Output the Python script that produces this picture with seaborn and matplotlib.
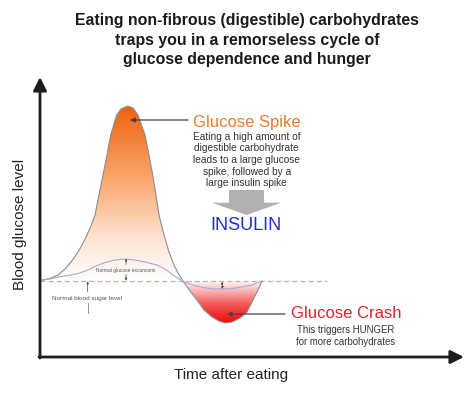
import numpy as np
import pandas as pd
import seaborn as sns
import matplotlib.pyplot as plt
from matplotlib.colors import LinearSegmentedColormap
from matplotlib.patches import FancyArrow

# time after eating (arbitrary units) and blood glucose level (arbitrary units)
spike_time = [0, 10, 18, 25, 31, 36, 41, 46, 51, 55, 59, 63, 67, 70.7, 76.7, 81, 87.7,
              93, 98, 105, 109, 112.7, 116, 119, 124, 129, 134, 138.5, 143,
              150, 157, 164, 172, 179, 185, 192, 200, 207, 213, 218, 222]
spike_level = [76.5, 78.5, 82, 88, 95, 102, 110, 120, 131, 142, 162, 182, 202, 222, 242, 248, 251,
               249, 242, 222, 202, 182, 162, 142, 122, 105, 92, 83, 76,
               66, 57, 47, 40, 36, 34, 35, 39, 45, 57, 67, 76]

normal_time = [0, 10, 18, 28, 38, 48, 57, 65, 75, 85, 95, 105, 117, 125, 133, 143,
               153, 163, 173, 182, 192, 202, 212, 222]
normal_level = [76.5, 78, 80, 81.5, 83.5, 87, 91.5, 94.5, 97, 98, 97, 95, 92, 88, 82, 75.5,
                72, 69.5, 68, 68, 68.5, 70, 72, 76]

baseline_level = 76.3
baseline_end = 287

sns.set_theme(style="white")
plt.rcParams['font.family'] = ['Liberation Sans', 'DejaVu Sans']

fig = plt.figure(figsize=(4.74, 3.98), dpi=100)
ax = fig.add_axes([0, 0, 1, 1])
ax.set_axis_off()

spike = pd.DataFrame({"time": spike_time, "level": spike_level})
normal = pd.DataFrame({"time": normal_time, "level": normal_level})

# gradient fills clipped to the curve
def gradient_fill(df, cmap, zorder=1):
    poly = ax.fill_between(df["time"], df["level"], baseline_level, color="none", lw=0)
    path = poly.get_paths()[0]
    lo = min(df["level"].min(), baseline_level)
    hi = max(df["level"].max(), baseline_level)
    grad = np.linspace(0, 1, 256).reshape(-1, 1)
    im = ax.imshow(grad, extent=[df["time"].min(), df["time"].max(), lo, hi],
                   origin="lower", cmap=cmap, aspect="auto", zorder=zorder)
    im.set_clip_path(path, transform=ax.transData)

orange = LinearSegmentedColormap.from_list(
    "spike", [(0, "#ffffff"), (0.25, "#fde2cf"), (0.6, "#f9a468"), (1, "#ee6210")])
red = LinearSegmentedColormap.from_list(
    "crash", [(0, "#ee0808"), (0.45, "#f45a5a"), (1, "#ffffff")])

gradient_fill(spike[spike["time"] <= 143], orange)
gradient_fill(spike[spike["time"] >= 143], red)

sns.lineplot(data=spike, x="time", y="level", color="#8c8c8c", lw=0.8,
             estimator=None, sort=False, ax=ax, zorder=3)
sns.lineplot(data=normal, x="time", y="level", color="#a8a8dc", lw=0.8,
             estimator=None, sort=False, ax=ax, zorder=3)
ax.plot([0, baseline_end], [baseline_level, baseline_level], color="#b5b5b5",
        lw=0.9, dashes=(4, 2.5), zorder=2)

ax.set_xlim(-40, 434)
ax.set_ylim(-41, 357)
ax.set_axis_off()

# axes arrows
ax.annotate("", xy=(0, 280), xytext=(0, -1),
            arrowprops=dict(arrowstyle="-|>", lw=2.0, color="#1e1e1e", mutation_scale=20,
                            shrinkA=0, shrinkB=0))
ax.annotate("", xy=(424, 0), xytext=(-1, 0),
            arrowprops=dict(arrowstyle="-|>", lw=2.0, color="#1e1e1e", mutation_scale=20,
                            shrinkA=0, shrinkB=0))

ax.text(-20, 133, "Blood glucose level", rotation=90, ha="center", va="center",
        fontsize=11, color="#222222")
ax.text(191.5, -18, "Time after eating", ha="center", va="center",
        fontsize=11, color="#222222")

ax.text(207, 317, "Eating non-fibrous (digestible) carbohydrates\n"
        "traps you in a remorseless cycle of\nglucose dependence and hunger",
        ha="center", va="center", fontsize=11.4, fontweight="bold",
        linespacing=1.36, color="#1a1a1a")

# glucose spike
ax.text(206.5, 235, "Glucose Spike", ha="center", va="center", fontsize=12, color="#ea7a2e")
ax.annotate("", xy=(90, 237), xytext=(148, 237),
            arrowprops=dict(arrowstyle="-|>", lw=0.9, color="#444444", mutation_scale=7,
                            shrinkA=0, shrinkB=0), zorder=4)
ax.text(206.7, 197, "Eating a high amount of\ndigestible carbohydrate\n"
        "leads to a large glucose\nspike, followed by a\nlarge insulin spike",
        ha="center", va="center", fontsize=7.3, linespacing=1.2, color="#333333")
ax.add_patch(FancyArrow(206.5, 167, 0, -25, width=35, head_width=69, head_length=12.3,
                        length_includes_head=True, color="#b0b0b0", lw=0))
ax.text(206.2, 132, "INSULIN", ha="center", va="center", fontsize=13, color="#1c30d2")

# glucose crash
ax.text(306, 43, "Glucose Crash", ha="center", va="center", fontsize=12, color="#d6262b")
ax.annotate("", xy=(186.7, 43), xytext=(245, 43),
            arrowprops=dict(arrowstyle="-|>", lw=0.9, color="#444444", mutation_scale=7,
                            shrinkA=0, shrinkB=0), zorder=4)
ax.text(305.7, 21.2, "This triggers HUNGER\nfor more carbohydrates",
        ha="center", va="center", fontsize=6.9, linespacing=1.2, color="#333333")

# normal excursions
ax.text(85.8, 86.3, "Normal glucose excursions", ha="center", va="center",
        fontsize=3.5, color="#555555")
small = dict(arrowstyle="-|>", lw=0.5, color="#444444", mutation_scale=3, shrinkA=0, shrinkB=0)
ax.annotate("", xy=(86, 98.3), xytext=(86, 92.5), arrowprops=small)
ax.annotate("", xy=(86, 76.5), xytext=(86, 82.5), arrowprops=small)
ax.text(46.7, 58.7, "Normal blood sugar level", ha="center", va="center",
        fontsize=4.6, color="#555555")
ax.annotate("", xy=(47.7, 75.5), xytext=(47.7, 65), arrowprops=small)
ax.plot([47.7, 47.7], [54, 44], color="#666666", lw=0.5)
ax.annotate("", xy=(182.3, 75.5), xytext=(182.3, 68),
            arrowprops=dict(arrowstyle="<|-|>", lw=0.6, ls=":", color="#444444",
                            mutation_scale=3, shrinkA=0, shrinkB=0))

fig.savefig("out.png", dpi=100)
